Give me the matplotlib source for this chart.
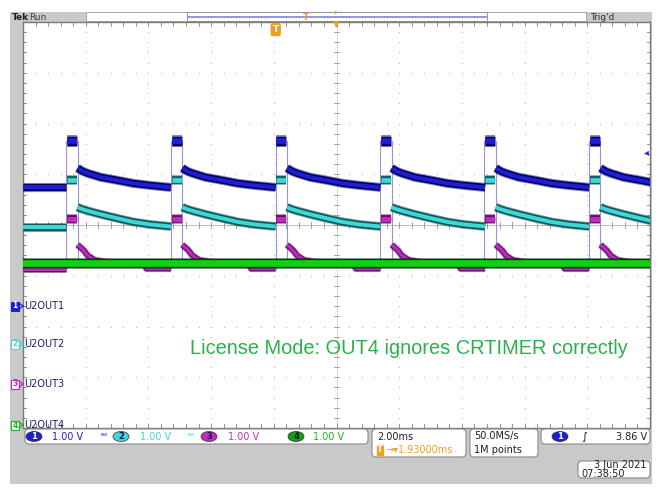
import matplotlib
matplotlib.use("Agg")
import matplotlib.pyplot as plt
from matplotlib.patches import Rectangle, FancyBboxPatch, Ellipse

# ---------------- data (screen divisions: x 0..10, y -4..4) ----------------
pulse_starts = [0.69, 2.36, 4.03, 5.70, 7.36, 9.03]
pulse_width = 0.18
decay_t = [0.0, 0.08, 0.16, 0.37, 0.64, 0.89, 1.16, 1.49]

ch1_pre = 0.75
ch1_top = 1.66
ch1_decay = [1.12, 1.06, 1.02, 0.94, 0.88, 0.82, 0.78, 0.74]

ch2_pre = -0.03
ch2_top = 0.89
ch2_decay = [0.35, 0.31, 0.28, 0.21, 0.13, 0.06, 0.01, -0.03]

ch3_t = [0.0, 0.10, 0.16, 0.27, 0.50, 1.05, 1.10, 1.49]
ch3_pre = -0.86
ch3_top = 0.12
ch3_decay = [-0.39, -0.50, -0.60, -0.69, -0.74, -0.75, -0.86, -0.86]

ch4_level = -0.74

channel_names = ["U2OUT1", "U2OUT2", "U2OUT3", "U2OUT4"]
channel_scales = ["1.00 V", "1.00 V", "1.00 V", "1.00 V"]
timebase = "2.00ms"
trig_pos = "1.93000ms"
sample_rate = "50.0MS/s"
record_len = "1M points"
trig_level = "3.86 V"
date_txt = "3 Jun 2021"
time_txt = "07:38:50"
annotation = "License Mode: OUT4 ignores CRTIMER correctly"

W, H = 666, 492
fig = plt.figure(figsize=(W / 100, H / 100), dpi=100)
fig.patch.set_facecolor("white")

# ---------------- background / frame (pixel coordinates) ----------------
bg = fig.add_axes([0, 0, 1, 1])
bg.set_xlim(0, W)
bg.set_ylim(H, 0)
bg.axis("off")

GRAY = "#c9c9c9"
bg.add_patch(Rectangle((10, 12), 642, 472, facecolor=GRAY, edgecolor="none"))
bg.add_patch(Rectangle((86, 12), 500, 9, facecolor="white", edgecolor="#9a9a9a", lw=0.6))
bg.add_patch(Rectangle((187, 12), 300, 9, facecolor="white", edgecolor="#8a8a8a", lw=0.6))
bg.plot([188, 486], [16.5, 16.5], color="#7f7fe8", lw=1.2)
bg.text(12, 17, "Tek", fontsize=6.5, fontweight="bold", color="#202020", va="center", ha="left",
        family="DejaVu Sans")
bg.text(29, 17, "Run", fontsize=6.5, color="#404040", va="center", ha="left", family="DejaVu Sans")
bg.text(590, 17, "Trig'd", fontsize=6.5, color="#303030", va="center", ha="left", family="DejaVu Sans")
ORANGE = "#f0a020"
bg.text(306, 18, "T", fontsize=6, color=ORANGE, fontweight="bold", va="center", ha="center")
bg.text(336, 13, "\u25be", fontsize=5, color=ORANGE, va="center", ha="center")

# ---------------- graticule axes ----------------
gx0, gy0, gx1, gy1 = 23, 22, 650, 428
ax = fig.add_axes([gx0 / W, 1 - gy1 / H, (gx1 - gx0) / W, (gy1 - gy0) / H])
ax.set_xlim(0, 10)
ax.set_ylim(-4, 4)
ax.set_facecolor("white")
for s in ax.spines.values():
    s.set_color("#7a7a7a")
    s.set_linewidth(1.0)
ax.set_xticks([])
ax.set_yticks([])

DOT = "#a8a8a8"
for gxv in range(1, 10):
    if gxv == 5:
        continue
    ys = [-4 + 0.2 * k for k in range(41)]
    ax.scatter([gxv] * len(ys), ys, s=0.6, color=DOT, zorder=1, linewidths=0)
for gyv in range(-3, 4):
    if gyv == 0:
        continue
    xs = [0.2 * k for k in range(51)]
    ax.scatter(xs, [gyv] * len(xs), s=0.6, color=DOT, zorder=1, linewidths=0)
ax.axvline(5, color="#d0d0d0", lw=0.6, zorder=1)
ax.axhline(0, color="#b0b0b0", lw=0.6, zorder=1)
for k in range(41):
    yy = -4 + 0.2 * k
    ax.plot([4.96, 5.04], [yy, yy], color="#909090", lw=0.6, zorder=1)
for k in range(51):
    xx = 0.2 * k
    ax.plot([xx, xx], [-0.05, 0.05], color="#909090", lw=0.6, zorder=1)
for k in range(1, 50):
    xx = 0.2 * k
    ax.plot([xx, xx], [4, 3.93], color="#808080", lw=0.6, zorder=1)
    ax.plot([xx, xx], [-4, -3.93], color="#808080", lw=0.6, zorder=1)
for k in range(1, 40):
    yy = -4 + 0.2 * k
    ax.plot([0, 0.05], [yy, yy], color="#808080", lw=0.6, zorder=1)
    ax.plot([10, 9.95], [yy, yy], color="#808080", lw=0.6, zorder=1)


def build_decay(t_list, levels):
    segs = []
    for s in pulse_starts:
        f = s + pulse_width
        segs.append(([f + t for t in t_list], levels))
    return segs


def layered(xs, ys, fuzz, dark, light, w_fuzz, w_dark, w_light, z):
    ax.plot(xs, ys, color=fuzz, lw=w_fuzz, zorder=z, solid_capstyle="butt", alpha=0.45)
    ax.plot(xs, ys, color=dark, lw=w_dark, zorder=z + 0.05, solid_capstyle="butt")
    ax.plot(xs, ys, color=light, lw=w_light, zorder=z + 0.1, solid_capstyle="butt")


def draw_channel(pre, top, t_list, levels, fuzz, dark, light, widths, top_widths, z):
    layered([0, pulse_starts[0]], [pre, pre], fuzz, dark, light, *widths, z)
    for s in pulse_starts:
        layered([s + 0.01, s + pulse_width - 0.01], [top, top], fuzz, dark, light, *top_widths, z)
    for xs, ys in build_decay(t_list, levels):
        layered(xs, ys, fuzz, dark, light, *widths, z)


EDGE = "#9c90d8"
for s in pulse_starts:
    f = s + pulse_width
    ax.plot([s, s], [ch3_pre, ch1_top], color=EDGE, lw=0.8, zorder=2)
    ax.plot([f, f], [ch4_level, ch1_top], color=EDGE, lw=0.8, zorder=2)

draw_channel(ch3_pre, ch3_top, ch3_t, ch3_decay, "#400040", "#6a0a6a", "#c02cc0",
             (5.0, 3.8, 2.2), (7.0, 5.6, 3.6), 3)
draw_channel(ch2_pre, ch2_top, decay_t, ch2_decay, "#063c3c", "#0d5a5a", "#3fd8d8",
             (6.4, 5.2, 2.8), (7.0, 5.6, 3.4), 4)
draw_channel(ch1_pre, ch1_top, decay_t, ch1_decay, "#000050", "#00006e", "#1f1fd0",
             (6.6, 5.2, 2.8), (8.6, 6.8, 4.2), 5)
ax.axhline(ch4_level, color="#0a300a", lw=7.6, zorder=6, alpha=0.6)
ax.axhline(ch4_level, color="#0a3a0a", lw=6.6, zorder=6.05)
ax.axhline(ch4_level, color="#10d010", lw=4.8, zorder=6.1)

ax.text(6.16, -2.43, annotation, fontsize=14.4,
        color="#2db04c", ha="center", va="center", family="Liberation Sans", zorder=7)

ax.text(4.03, 3.85, "T", fontsize=6.5, color="white", fontweight="bold", ha="center", va="center",
        zorder=8, bbox=dict(boxstyle="round,pad=0.15", fc=ORANGE, ec=ORANGE))
ax.text(9.95, 1.43, "\u25c2", fontsize=7, color="#2030d0", ha="center", va="center", zorder=8)

# ---------------- overlay for items crossing the graticule edge ----------------
ov = fig.add_axes([0, 0, 1, 1])
ov.set_xlim(0, W)
ov.set_ylim(H, 0)
ov.axis("off")
ov.patch.set_alpha(0)
ov.text(336, 24.5, "\u25bc", fontsize=6, color=ORANGE, va="center", ha="center")

label_y = [306, 344, 384, 425]
ch_colors = ["#1f1fd0", "#3fd8d8", "#c02cc0", "#20b020"]
for i, (nm, yy) in enumerate(zip(channel_names, label_y)):
    fc = ch_colors[i] if i == 0 else "white"
    tc = "white" if i == 0 else ch_colors[i]
    ov.add_patch(Rectangle((11, yy - 4.5), 8, 9, facecolor=fc, edgecolor=ch_colors[i], lw=0.8, zorder=5))
    ov.text(15, yy, str(i + 1), fontsize=5.5, color=tc, fontweight="bold", ha="center", va="center", zorder=6)
    ov.plot([19, 23], [yy - 3, yy], color=ch_colors[i], lw=0.9, zorder=5)
    ov.plot([19, 23], [yy + 3, yy], color=ch_colors[i], lw=0.9, zorder=5)
    ov.text(24, yy, nm, fontsize=7, color="#1c1c6c", ha="left", va="center", zorder=10,
            family="DejaVu Sans")


def rbox(x, y, w, h):
    ov.add_patch(FancyBboxPatch((x, y), w, h, boxstyle="round,pad=0,rounding_size=4",
                                facecolor="white", edgecolor="#8a8a8a", lw=0.8, zorder=3))


rbox(25, 429, 343, 15)
rbox(372, 429, 94, 28)
rbox(470, 429, 68, 28)
rbox(541, 429, 109, 15)
rbox(578, 461, 72, 17)

FS = 7
badge_x = [34, 121, 209, 296]
scale_x = [52, 140, 228, 313]
for i in range(4):
    ov.add_patch(Ellipse((badge_x[i], 436.5), 16, 10, facecolor=ch_colors[i] if i != 3 else "#10a010",
                         edgecolor="#303030", lw=0.5, zorder=4))
    ov.text(badge_x[i], 436.8, str(i + 1), fontsize=6, color="#101050" if i != 0 else "white",
            ha="center", va="center", fontweight="bold", zorder=5)
    ov.text(scale_x[i], 437, channel_scales[i], fontsize=FS, color=ch_colors[i], ha="left",
            va="center", zorder=5, family="DejaVu Sans")
ov.text(104, 437, "\u1d2e\u1d42", fontsize=5, color="#1f1fd0", ha="center", va="center", zorder=5)
ov.text(191, 437, "\u1d2e\u1d42", fontsize=5, color="#3fd8d8", ha="center", va="center", zorder=5)

ov.text(377, 436.5, timebase, fontsize=FS, color="#202020", ha="left", va="center", zorder=5)
ov.text(377, 450, "T", fontsize=6, color="white", fontweight="bold", ha="left", va="center", zorder=6,
        bbox=dict(boxstyle="square,pad=0.05", fc=ORANGE, ec=ORANGE))
ov.text(385, 450, "\u2192\u25be" + trig_pos, fontsize=FS, color=ORANGE, ha="left", va="center", zorder=5)
ov.text(474, 436.5, sample_rate, fontsize=FS, color="#202020", ha="left", va="center", zorder=5)
ov.text(474, 450, record_len, fontsize=FS, color="#202020", ha="left", va="center", zorder=5)

ov.add_patch(Ellipse((560, 436.5), 16, 10, facecolor="#1f1fd0", edgecolor="#303030", lw=0.5, zorder=4))
ov.text(560, 436.8, "1", fontsize=6, color="white", ha="center", va="center", fontweight="bold", zorder=5)
ov.text(584, 437, "\u222b", fontsize=8, color="#202020", ha="center", va="center", zorder=5)
ov.text(647, 437, trig_level, fontsize=FS, color="#202020", ha="right", va="center", zorder=5)

ov.text(647, 465.5, date_txt, fontsize=FS, color="#202020", ha="right", va="center", zorder=5)
ov.text(581, 474, time_txt, fontsize=FS, color="#202020", ha="left", va="center", zorder=5)

fig.savefig("out.png", dpi=100, facecolor="white")
